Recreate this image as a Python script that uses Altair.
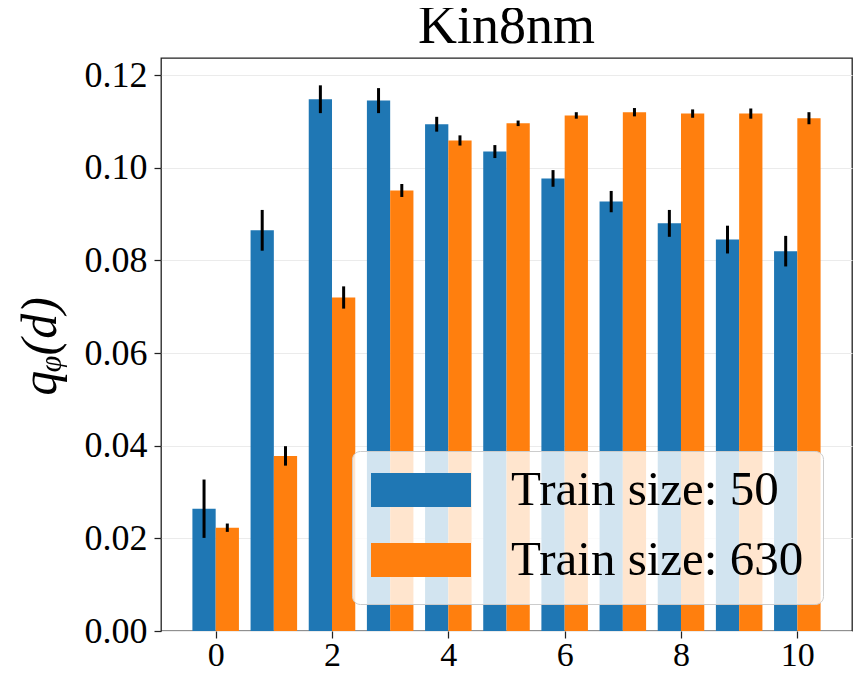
import altair as alt
import pandas as pd

dims = list(range(11))
series_names = ["Train size: 50", "Train size: 630"]
mean_50 = [0.0264, 0.0865, 0.1148, 0.1145, 0.1094, 0.1035, 0.0977, 0.0927, 0.0880, 0.0845, 0.0820]
err_50 = [0.0063, 0.0044, 0.0030, 0.0027, 0.0016, 0.0014, 0.0018, 0.0023, 0.0029, 0.0030, 0.0033]
mean_630 = [0.0223, 0.0378, 0.0720, 0.0951, 0.1059, 0.1096, 0.1113, 0.1120, 0.1117, 0.1117, 0.1107]
err_630 = [0.0009, 0.0021, 0.0024, 0.0014, 0.0011, 0.0006, 0.0007, 0.0009, 0.0009, 0.0011, 0.0013]
colors = ["#1f77b4", "#ff7f0e"]
x_ticks = [0, 2, 4, 6, 8, 10]
y_ticks = [0.0, 0.02, 0.04, 0.06, 0.08, 0.10, 0.12]

rows = []
for name, means, errs in [(series_names[0], mean_50, err_50), (series_names[1], mean_630, err_630)]:
    for d, m, e in zip(dims, means, errs):
        rows.append({"d": d, "series": name, "mean": m, "err": e})
df = pd.DataFrame(rows)

FONT = "Liberation Serif"
first = f"datum.series == '{series_names[0]}'"

xscale = alt.Scale(domain=[-0.94, 10.94], nice=False, zero=False)
yscale = alt.Scale(domain=[0, 0.1237], nice=False)

base = alt.Chart(df).transform_calculate(
    x0=f"{first} ? datum.d - 0.4 : datum.d",
    x1=f"{first} ? datum.d : datum.d + 0.4",
    xc=f"{first} ? datum.d - 0.2 : datum.d + 0.2",
    lo="datum.mean - datum.err",
    hi="datum.mean + datum.err",
)

bars = base.mark_rect().encode(
    x=alt.X("x0:Q", scale=xscale,
            axis=alt.Axis(values=x_ticks, title=None, grid=False, format="d",
                          labelFontSize=34, labelFont=FONT, labelColor="black",
                          labelBaseline="alphabetic", labelPadding=27,
                          tickSize=7, tickColor="#222", tickWidth=1.25,
                          domain=False)),
    x2="x1:Q",
    y=alt.Y("mean:Q", scale=yscale,
            axis=alt.Axis(values=y_ticks, format=".2f", title="qᵩ(d)",
                          labelFontSize=36, labelFont=FONT, labelColor="black",
                          labelPadding=7, tickSize=7, tickColor="#222", tickWidth=1.25,
                          grid=True, gridColor="#ebebeb", gridWidth=1.2, domain=False,
                          titleFont=FONT, titleFontSize=50, titleFontStyle="italic",
                          titleFontWeight="normal", titleColor="black",
                          titleAngle=270, titleX=-121, titleY=288,
                          titleAlign="center", titleBaseline="middle")),
    y2=alt.datum(0),
    color=alt.Color("series:N", scale=alt.Scale(domain=series_names, range=colors),
                    legend=alt.Legend(title=None, orient="none", legendX=191, legendY=393,
                                      padding=19, fillColor="rgba(255,255,255,0.8)",
                                      strokeColor="#cccccc", cornerRadius=8,
                                      symbolType="M-1,-0.34L1,-0.34L1,0.34L-1,0.34Z",
                                      symbolSize=10000, symbolStrokeWidth=0,
                                      symbolOpacity=1, clipHeight=40,
                                      labelFontSize=49, labelFont=FONT, labelColor="black",
                                      labelOffset=40, rowPadding=21, labelLimit=600)),
)

errs = base.mark_rule(color="black", strokeWidth=3).encode(
    x=alt.X("xc:Q", scale=xscale),
    y=alt.Y("lo:Q", scale=yscale),
    y2="hi:Q",
)

chart = alt.layer(bars, errs).properties(
    width=691, height=573,
    title=alt.TitleParams("Kin8nm", font=FONT, fontSize=54, fontWeight="normal",
                          color="black", anchor="middle", frame="group", offset=3),
    autosize=alt.AutoSizeParams(type="none"),
    padding={"left": 153, "top": 50, "right": 4, "bottom": 43},
).configure_view(stroke="#222", strokeWidth=1.3)

chart.save("out.html", embed_options={"renderer": "svg", "actions": False})
